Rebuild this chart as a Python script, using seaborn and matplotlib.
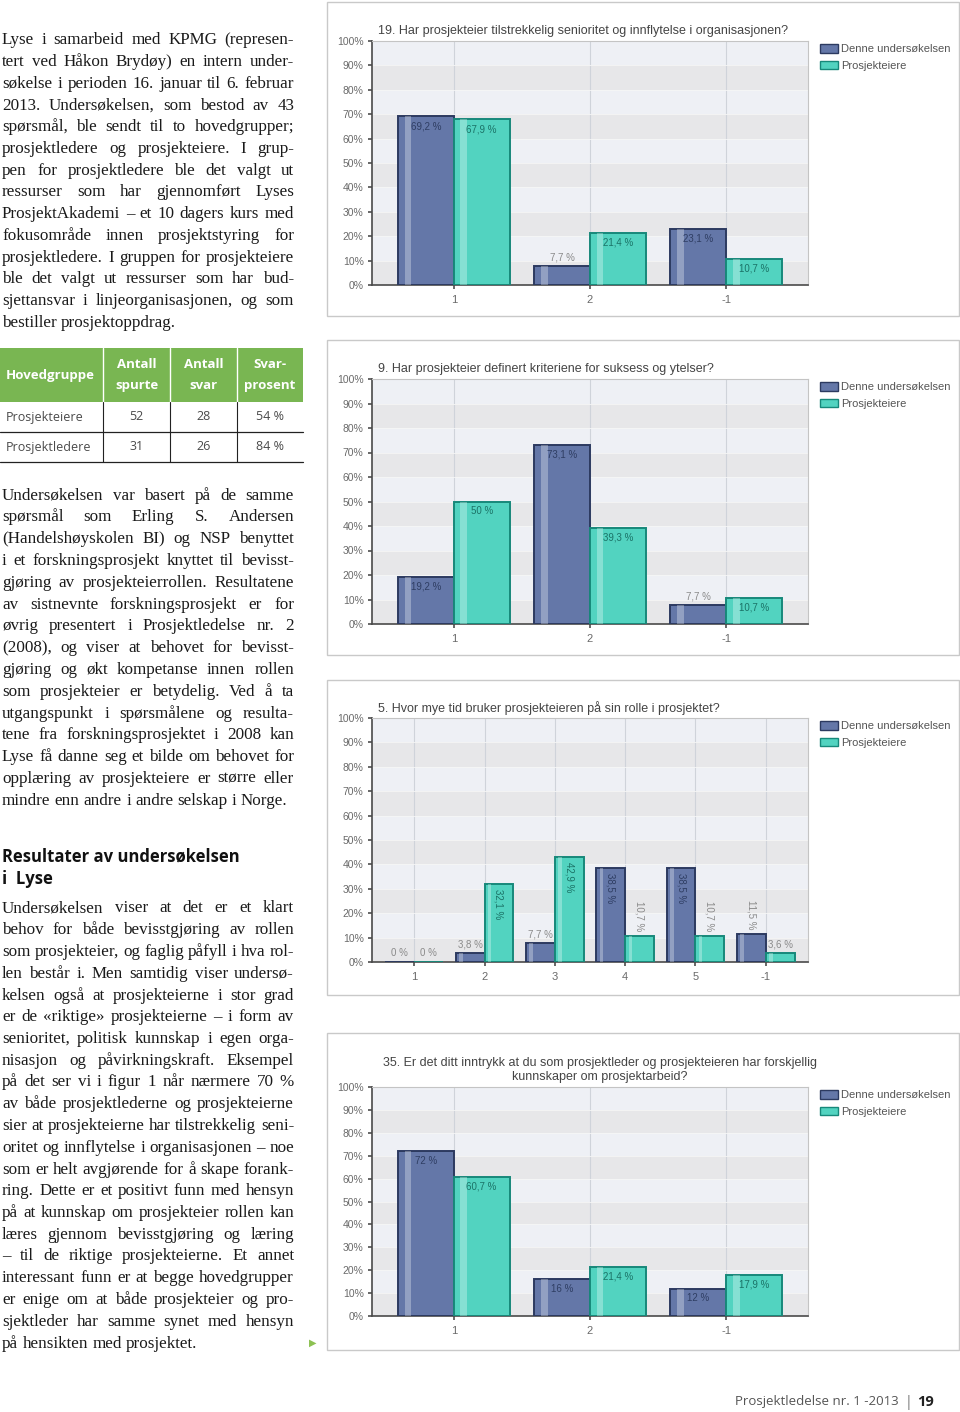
import numpy as np
import pandas as pd
import matplotlib
matplotlib.use("Agg")
import matplotlib.pyplot as plt
import seaborn as sns
from matplotlib.patches import Rectangle
from matplotlib.lines import Line2D

W, H = 960, 1412

# ---- chart data (percent) ----
series = ["Denne undersøkelsen", "Prosjekteiere"]

q19_title = "19. Har prosjekteier tilstrekkelig senioritet og innflytelse i organisasjonen?"
q19_cats = ["1", "2", "-1"]
q19_denne = [69.2, 7.7, 23.1]
q19_eiere = [67.9, 21.4, 10.7]

q9_title = "9. Har prosjekteier definert kriteriene for suksess og ytelser?"
q9_cats = ["1", "2", "-1"]
q9_denne = [19.2, 73.1, 7.7]
q9_eiere = [50, 39.3, 10.7]

q5_title = "5. Hvor mye tid bruker prosjekteieren på sin rolle i prosjektet?"
q5_cats = ["1", "2", "3", "4", "5", "-1"]
q5_denne = [0, 3.8, 7.7, 38.5, 38.5, 11.5]
q5_eiere = [0, 32.1, 42.9, 10.7, 10.7, 3.6]

q35_title = ("35. Er det ditt inntrykk at du som prosjektleder og prosjekteieren har forskjellig\n"
             "kunnskaper om prosjektarbeid?")
q35_cats = ["1", "2", "-1"]
q35_denne = [72, 16, 12]
q35_eiere = [60.7, 21.4, 17.9]

# ---- table ----
table_head = ["Hovedgruppe", "Antall\nspurte", "Antall\nsvar", "Svar-\nprosent"]
table_rows = [["Prosjekteiere", "52", "28", "54 %"],
              ["Prosjektledere", "31", "26", "84 %"]]

# ---- body text ----
para1 = [
    "Lyse i samarbeid med KPMG (represen-",
    "tert ved Håkon Brydøy) en intern under-",
    "søkelse i perioden 16. januar til 6. februar",
    "2013. Undersøkelsen, som bestod av 43",
    "spørsmål, ble sendt til to hovedgrupper;",
    "prosjektledere og prosjekteiere. I grup-",
    "pen for prosjektledere ble det valgt ut",
    "ressurser som har gjennomført Lyses",
    "ProsjektAkademi – et 10 dagers kurs med",
    "fokusområde innen prosjektstyring for",
    "prosjektledere. I gruppen for prosjekteiere",
    "ble det valgt ut ressurser som har bud-",
    "sjettansvar i linjeorganisasjonen, og som",
    "bestiller prosjektoppdrag.",
]
para2 = [
    "Undersøkelsen var basert på de samme",
    "spørsmål som Erling S. Andersen",
    "(Handelshøyskolen BI) og NSP benyttet",
    "i et forskningsprosjekt knyttet til bevisst-",
    "gjøring av prosjekteierrollen. Resultatene",
    "av sistnevnte forskningsprosjekt er for",
    "øvrig presentert i Prosjektledelse nr. 2",
    "(2008), og viser at behovet for bevisst-",
    "gjøring og økt kompetanse innen rollen",
    "som prosjekteier er betydelig. Ved å ta",
    "utgangspunkt i spørsmålene og resulta-",
    "tene fra forskningsprosjektet i 2008 kan",
    "Lyse få danne seg et bilde om behovet for",
    "opplæring av prosjekteiere er større eller",
    "mindre enn andre i andre selskap i Norge.",
]
heading = ["Resultater av undersøkelsen", "i  Lyse"]
para3 = [
    "Undersøkelsen viser at det er et klart",
    "behov for både bevisstgjøring av rollen",
    "som prosjekteier, og faglig påfyll i hva rol-",
    "len består i. Men samtidig viser undersø-",
    "kelsen også at prosjekteierne i stor grad",
    "er de «riktige» prosjekteierne – i form av",
    "senioritet, politisk kunnskap i egen orga-",
    "nisasjon og påvirkningskraft. Eksempel",
    "på det ser vi i figur 1 når nærmere 70 %",
    "av både prosjektlederne og prosjekteierne",
    "sier at prosjekteierne har tilstrekkelig seni-",
    "oritet og innflytelse i organisasjonen – noe",
    "som er helt avgjørende for å skape forank-",
    "ring. Dette er et positivt funn med hensyn",
    "på at kunnskap om prosjekteier rollen kan",
    "læres gjennom bevisstgjøring og læring",
    "– til de riktige prosjekteierne. Et annet",
    "interessant funn er at begge hovedgrupper",
    "er enige om at både prosjekteier og pro-",
    "sjektleder har samme synet med hensyn",
    "på hensikten med prosjektet.",
]

BLUE, BLUE_EDGE = "#6477a8", "#2c3a60"
TEAL, TEAL_EDGE = "#52d3c0", "#17887a"
GREEN = "#79b652"

sns.set_theme(style="white")
plt.rcParams["font.family"] = ["Liberation Sans", "DejaVu Sans"]

fig = plt.figure(figsize=(W / 100, H / 100), dpi=100)
renderer = fig.canvas.get_renderer()


def fx(x):
    return x / W


def fy(y):
    return 1 - y / H


def fmt(v):
    return f"{v:g}".replace(".", ",") + " %"


AX_L, AX_R = 372, 808


def draw_chart(top, bottom, panel, title, cats, denne, eiere, rotate=False):
    # panel frame
    fig.add_artist(Rectangle((fx(327), fy(panel[1])), fx(959) - fx(327),
                             (panel[1] - panel[0]) / H, transform=fig.transFigure,
                             fill=False, ec="#c9c9c9", lw=1))
    ax = fig.add_axes([fx(AX_L), fy(bottom), fx(AX_R) - fx(AX_L), (bottom - top) / H])
    df = pd.DataFrame({
        "kategori": cats * 2,
        "serie": [series[0]] * len(cats) + [series[1]] * len(cats),
        "andel": denne + eiere,
    })
    ax.set_facecolor("#eef0f5")
    for lo in range(0, 100, 20):
        ax.axhspan(lo, lo + 10, color="#e7e7e9", zorder=0, lw=0)
    sns.barplot(data=df, x="kategori", y="andel", hue="serie", order=cats,
                hue_order=series, palette=[BLUE, TEAL], saturation=1,
                errorbar=None, width=0.82, legend=False, ax=ax, zorder=3)
    edges = [BLUE_EDGE, TEAL_EDGE]
    txtcol = ["#2f3e63", "#1b7367"]
    for k, cont in enumerate(ax.containers):
        for bar in cont:
            bar.set_edgecolor(edges[k])
            bar.set_linewidth(1.4)
            h = bar.get_height()
            if h > 0:
                # glossy highlight stripe
                ax.add_patch(Rectangle((bar.get_x() + bar.get_width() * 0.12, 0),
                                       bar.get_width() * 0.12, h, color="white",
                                       alpha=0.3, lw=0, zorder=4))
            cx = bar.get_x() + bar.get_width() / 2
            lab = fmt(h)
            if rotate and h >= 10:
                if h >= 30:
                    ax.text(cx, h - 2, lab, rotation=-90, ha="center", va="top",
                            fontsize=7, color=txtcol[k], zorder=5)
                else:
                    ax.text(cx, h + 2, lab, rotation=-90, ha="center", va="bottom",
                            fontsize=7, color="#8a8a8a", zorder=5)
            elif h >= 10:
                ax.text(cx, h - 2, lab, ha="center", va="top", fontsize=7,
                        color=txtcol[k], zorder=5)
            else:
                ax.text(cx, h + 1.5, lab, ha="center", va="bottom", fontsize=7,
                        color="#8a8a8a", zorder=5)
    ax.set_xlim(-0.6, len(cats) - 0.4)
    ax.set_ylim(0, 100)
    ax.set_yticks(np.arange(0, 101, 10))
    ax.set_yticklabels([f"{t}%" for t in range(0, 101, 10)])
    ax.set_xlabel("")
    ax.set_ylabel("")
    ax.tick_params(axis="y", labelsize=7.5, labelcolor="#6a6a6a", length=3,
                   color="#555555", left=True, pad=3)
    ax.tick_params(axis="x", labelsize=8, labelcolor="#6a6a6a", length=3,
                   color="#555555", bottom=True, pad=4)
    ax.xaxis.grid(True, color="#cfd3da", lw=0.8)
    ax.yaxis.grid(True, color="#f6f6f6", lw=0.6)
    ax.set_axisbelow(True)
    for s in ["left", "bottom"]:
        ax.spines[s].set_color("#4a4a4a")
        ax.spines[s].set_linewidth(1.2)
    for s in ["top", "right"]:
        ax.spines[s].set_color("#c4c4c4")
        ax.spines[s].set_linewidth(0.8)
    if "\n" in title:
        fig.text(fx(600), fy(top - 4), title, ha="center", va="bottom",
                 fontsize=9, color="#444444", linespacing=1.2)
    else:
        fig.text(fx(378), fy(top - 10), title, ha="left", va="center",
                 fontsize=9, color="#444444")
    handles = [Rectangle((0, 0), 1, 1, fc=BLUE, ec=BLUE_EDGE, lw=1),
               Rectangle((0, 0), 1, 1, fc=TEAL, ec=TEAL_EDGE, lw=1)]
    ax.legend(handles, series, loc="upper left", bbox_to_anchor=(fx(820), fy(top + 3)),
              bbox_transform=fig.transFigure, frameon=False, fontsize=8,
              handlelength=1.6, handleheight=0.8, handletextpad=0.3,
              labelspacing=0.6, labelcolor="#555555", borderaxespad=0,
              borderpad=0)
    return ax


draw_chart(41, 285, (2, 316), q19_title, q19_cats, q19_denne, q19_eiere)
draw_chart(379, 624, (340, 655), q9_title, q9_cats, q9_denne, q9_eiere)
draw_chart(718, 962, (680, 995), q5_title, q5_cats, q5_denne, q5_eiere, rotate=True)
draw_chart(1087, 1316, (1033, 1350), q35_title, q35_cats, q35_denne, q35_eiere)


# ---- justified serif body text ----
serif = dict(family=["Liberation Serif", "DejaVu Serif"], fontsize=11, color="#1a1a1a")


def natural_width(line, size):
    t = fig.text(0, 0, line, **dict(serif, fontsize=size))
    w = t.get_window_extent(renderer).width
    t.remove()
    return w


# pick a body size so the widest justified line fits the 292 px column
all_lines = [l for p in (para1, para2, para3) for l in p[:-1]]
widest = max(natural_width(l, 11) for l in all_lines)
serif["fontsize"] = 11 * 291 / widest
space_w = natural_width("a a", serif["fontsize"]) - natural_width("aa", serif["fontsize"])


def set_paragraph(lines, y0, step, x0=2, x1=294):
    for i, line in enumerate(lines):
        base = y0 + i * step + 4.5
        words = line.split(" ")
        texts, widths = [], []
        for w in words:
            t = fig.text(0, 0, w, va="baseline", ha="left", **serif)
            texts.append(t)
            widths.append(t.get_window_extent(renderer).width)
        last = i == len(lines) - 1
        if last or len(words) == 1:
            gap = space_w
        else:
            gap = (x1 - x0 - sum(widths)) / (len(words) - 1)
        x = x0
        for t, w in zip(texts, widths):
            t.set_position((fx(x), fy(base)))
            x += w + gap


set_paragraph(para1, 40, 21.7)
set_paragraph(para2, 495, 21.8)
set_paragraph(para3, 908, 21.75)

# ---- heading ----
for i, line in enumerate(heading):
    fig.text(fx(2), fy(857 + i * 22), line, ha="left", va="center",
             family=["Open Sans", "DejaVu Sans"], fontweight="bold",
             fontsize=12, color="#111111")

# ---- table ----
col_x = [0, 103, 170, 237, 303]
fig.add_artist(Rectangle((fx(0), fy(402)), fx(303), (402 - 348) / H,
                         transform=fig.transFigure, fc=GREEN, ec="none"))
for cx in col_x[1:-1]:
    fig.add_artist(Line2D([fx(cx), fx(cx)], [fy(348), fy(402)], color="white",
                          lw=1, transform=fig.transFigure))
    fig.add_artist(Line2D([fx(cx), fx(cx)], [fy(402), fy(462)], color="#222222",
                          lw=0.8, transform=fig.transFigure))
for yy in [432, 462]:
    fig.add_artist(Line2D([fx(0), fx(303)], [fy(yy), fy(yy)], color="#222222",
                          lw=0.9, transform=fig.transFigure))
tfont = ["Open Sans", "DejaVu Sans"]
for j, head in enumerate(table_head):
    if j == 0:
        fig.text(fx(6), fy(375), head, ha="left", va="center", family=tfont,
                 fontweight="bold", fontsize=9.5, color="white")
    else:
        fig.text(fx((col_x[j] + col_x[j + 1]) / 2), fy(375), head, ha="center",
                 va="center", family=tfont, fontweight="bold", fontsize=9.5,
                 color="white", linespacing=1.75)
for r, row in enumerate(table_rows):
    yy = 417 + r * 30
    for j, cell in enumerate(row):
        if j == 0:
            fig.text(fx(6), fy(yy), cell, ha="left", va="center", family=tfont,
                     fontsize=9, color="#4a4a4a")
        else:
            fig.text(fx((col_x[j] + col_x[j + 1]) / 2), fy(yy), cell, ha="center",
                     va="center", family=tfont, fontsize=9, color="#4a4a4a")

# ---- end marker and footer ----
fig.text(fx(313), fy(1343), "▶", ha="center", va="center", fontsize=7,
         color="#8cc152", family=["DejaVu Sans"])
fig.text(fx(899), fy(1402), "Prosjektledelse nr. 1 -2013", ha="right", va="center",
         family=tfont, fontsize=9.5, color="#555555")
fig.text(fx(908), fy(1402), "|", ha="center", va="center", family=tfont,
         fontsize=10, color="#777777")
fig.text(fx(917), fy(1402), "19", ha="left", va="center", family=tfont,
         fontweight="bold", fontsize=10.5, color="#222222")

fig.savefig("out.png", dpi=100, facecolor="white")
